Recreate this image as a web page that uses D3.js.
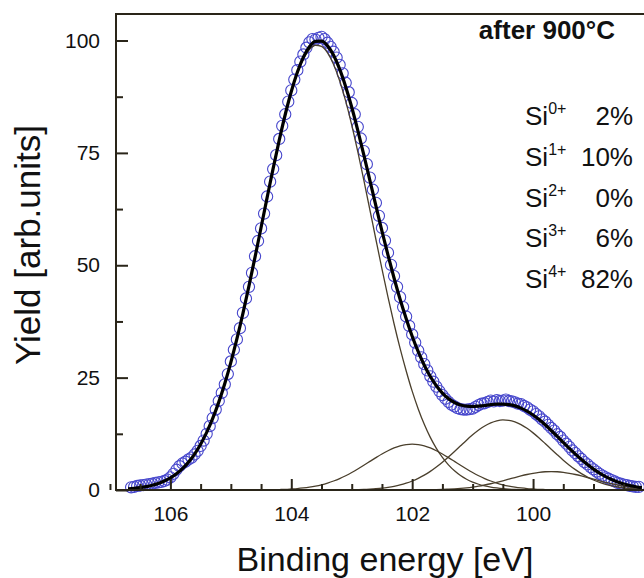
<!DOCTYPE html>
<html>
<head>
<meta charset="utf-8">
<script src="https://cdn.jsdelivr.net/npm/d3@7"></script>
<style>
  body { margin: 0; background: #ffffff; }
  text { font-family: "Liberation Sans", Arial, Helvetica, sans-serif; fill: #111; }
</style>
</head>
<body>
<svg id="chart" width="644" height="578"></svg>
<script>
// ---------------- DATA ----------------
// Measured XPS Si 2p yield (open circles), binding energy in eV
const energyMeasured = [
  106.65,106.60,106.55,106.50,106.45,106.40,106.35,106.30,106.25,106.20,
  106.15,106.10,106.05,106.00,105.95,105.90,105.85,105.80,105.75,105.70,
  105.65,105.60,105.55,105.50,105.45,105.40,105.35,105.30,105.25,105.20,
  105.15,105.10,105.05,105.00,104.95,104.90,104.85,104.80,104.75,104.70,
  104.65,104.60,104.55,104.50,104.45,104.40,104.35,104.30,104.25,104.20,
  104.15,104.10,104.05,104.00,103.95,103.90,103.85,103.80,103.75,103.70,
  103.65,103.60,103.55,103.50,103.45,103.40,103.35,103.30,103.25,103.20,
  103.15,103.10,103.05,103.00,102.95,102.90,102.85,102.80,102.75,102.70,
  102.65,102.60,102.55,102.50,102.45,102.40,102.35,102.30,102.25,102.20,
  102.15,102.10,102.05,102.00,101.95,101.90,101.85,101.80,101.75,101.70,
  101.65,101.60,101.55,101.50,101.45,101.40,101.35,101.30,101.25,101.20,
  101.15,101.10,101.05,101.00,100.95,100.90,100.85,100.80,100.75,100.70,
  100.65,100.60,100.55,100.50,100.45,100.40,100.35,100.30,100.25,100.20,
  100.15,100.10,100.05,100.00,99.95,99.90,99.85,99.80,99.75,99.70,
  99.65,99.60,99.55,99.50,99.45,99.40,99.35,99.30,99.25,99.20,
  99.15,99.10,99.05,99.00,98.95,98.90,98.85,98.80,98.75,98.70,
  98.65,98.60,98.55,98.50,98.45,98.40,98.35,98.30,98.25
];
const yieldMeasured = [
  0.6,0.7,0.9,1.0,1.1,1.2,1.3,1.4,1.6,1.7,
  1.8,2.0,2.3,2.8,3.6,4.5,5.3,5.9,6.3,6.8,
  7.2,7.9,8.7,9.8,11.0,12.5,14.2,16.0,17.9,19.8,
  21.6,23.5,25.8,28.6,31.2,33.5,36.0,39.4,42.6,45.2,
  48.3,52.0,55.4,58.2,61.5,65.3,68.6,71.4,74.5,78.1,
  81.0,83.6,86.4,88.9,91.3,93.4,95.3,96.9,98.4,99.6,
  100.3,100.2,100.6,100.8,100.3,99.5,98.6,97.5,96.2,94.6,
  92.7,90.6,88.5,86.1,83.6,80.8,78.2,75.4,72.5,69.5,
  66.8,63.9,61.0,58.3,55.5,52.8,50.1,47.6,45.2,42.9,
  40.7,38.6,36.5,34.6,32.8,31.0,29.5,28.0,26.6,25.3,
  24.1,23.0,22.0,21.1,20.3,19.6,19.0,18.6,18.2,18.0,
  17.9,17.9,18.0,18.1,18.5,18.9,19.2,19.3,19.6,19.9,
  19.7,20.0,19.8,19.9,20.1,19.8,19.7,19.5,19.2,19.1,
  18.7,18.4,17.9,17.5,16.9,16.4,15.7,15.2,14.5,13.8,
  13.2,12.4,11.8,11.0,10.3,9.6,8.8,8.2,7.5,6.9,
  6.2,5.7,5.1,4.6,4.1,3.6,3.2,2.8,2.5,2.2,
  1.9,1.6,1.4,1.2,1.1,0.9,0.8,0.7,0.7
];

// Fitted component curves (thin lines), sampled on a 0.1 eV grid
const energyFit = [
  106.7,106.6,106.5,106.4,106.3,106.2,106.1,106.0,105.9,105.8,
  105.7,105.6,105.5,105.4,105.3,105.2,105.1,105.0,104.9,104.8,
  104.7,104.6,104.5,104.4,104.3,104.2,104.1,104.0,103.9,103.8,
  103.7,103.6,103.5,103.4,103.3,103.2,103.1,103.0,102.9,102.8,
  102.7,102.6,102.5,102.4,102.3,102.2,102.1,102.0,101.9,101.8,
  101.7,101.6,101.5,101.4,101.3,101.2,101.1,101.0,100.9,100.8,
  100.7,100.6,100.5,100.4,100.3,100.2,100.1,100.0,99.9,99.8,
  99.7,99.6,99.5,99.4,99.3,99.2,99.1,99.0,98.9,98.8,
  98.7,98.6,98.5,98.4,98.3,98.2
];
const fitSi4 = [
  0.25,0.36,0.52,0.75,1.05,1.45,1.99,2.69,3.60,4.75,
  6.20,8.00,10.19,12.81,15.93,19.55,23.71,28.41,33.62,39.31,
  45.40,51.80,58.39,65.01,71.51,77.70,83.40,88.43,92.63,95.85,
  97.98,98.95,98.70,97.27,94.69,91.06,86.50,81.21,75.27,68.92,
  62.35,55.73,49.19,42.91,36.99,31.51,26.54,21.99,18.04,14.62,
  11.70,9.26,7.24,5.59,4.26,3.21,2.39,1.76,1.28,0.91,
  0.65,0.46,0.31,0.21,0.14,0.09,0.06,0.04,0.02,0.01,
  0,0,0,0,0,0,0,0,0,0,
  0,0,0,0,0,0
];
const fitSi3 = [
  0,0,0,0,0,0,0,0,0,0,
  0,0,0,0,0,0,0,0,0,0,
  0,0,0.02,0.04,0.06,0.10,0.14,0.22,0.31,0.45,
  0.63,0.86,1.16,1.54,2.00,2.54,3.18,3.89,4.67,5.50,
  6.36,7.21,8.02,8.74,9.35,9.81,10.10,10.20,10.10,9.81,
  9.35,8.74,8.02,7.21,6.36,5.50,4.67,3.89,3.18,2.54,
  2.00,1.54,1.16,0.86,0.63,0.45,0.31,0.22,0.14,0.10,
  0.06,0.04,0.02,0,0,0,0,0,0,0,
  0,0,0,0,0,0
];
const fitSi1 = [
  0,0,0,0,0,0,0,0,0,0,
  0,0,0,0,0,0,0,0,0,0,
  0,0,0,0,0,0,0,0,0,0,
  0,0,0,0,0.01,0.02,0.04,0.06,0.09,0.13,
  0.20,0.29,0.41,0.59,0.82,1.12,1.51,2.00,2.60,3.31,
  4.15,5.12,6.19,7.35,8.58,9.84,11.09,12.27,13.34,14.24,
  14.94,15.40,15.60,15.51,15.16,14.55,13.72,12.71,11.57,10.34,
  9.08,7.84,6.64,5.53,4.53,3.64,2.87,2.23,1.70,1.27,
  0.93,0.67,0.48,0.33,0.23,0.15
];
const fitSi0 = [
  0,0,0,0,0,0,0,0,0,0,
  0,0,0,0,0,0,0,0,0,0,
  0,0,0,0,0,0,0,0,0,0,
  0,0,0,0,0,0,0,0,0,0,
  0,0,0,0,0,0,0,0.01,0.02,0.03,
  0.05,0.08,0.12,0.18,0.26,0.36,0.49,0.66,0.86,1.11,
  1.39,1.71,2.05,2.41,2.78,3.13,3.45,3.72,3.93,4.06,
  4.10,4.06,3.93,3.72,3.45,3.13,2.78,2.41,2.05,1.71,
  1.39,1.11,0.86,0.66,0.49,0.36
];

const xTickLabels = [106, 104, 102, 100];
const yTickLabels = [0, 25, 50, 75, 100];
const xAxisTitle = "Binding energy [eV]";
const yAxisTitle = "Yield [arb.units]";
const annotationTitle = "after 900°C";
const speciesBase = "Si";
const speciesCharge = ["0+", "1+", "2+", "3+", "4+"];
const speciesPercent = ["2%", "10%", "0%", "6%", "82%"];

// ---------------- DRAWING ----------------
const svg = d3.select("#chart");
const plotLeft = 116, plotRight = 660, plotTop = 14, plotBottom = 490;

const x = d3.scaleLinear().domain([106.9, 97.9]).range([plotLeft, plotRight]);
const y = d3.scaleLinear().domain([0, 105.9]).range([plotBottom, plotTop]);

const axisColor = "#2a2519";

const nFit = Math.min(energyFit.length, fitSi4.length, fitSi3.length, fitSi1.length, fitSi0.length);
const comps = [fitSi4, fitSi3, fitSi1, fitSi0];
const lineGen = d3.line().x(d => x(d[0])).y(d => y(d[1])).curve(d3.curveMonotoneX);

// measured data circles
const nMeas = Math.min(energyMeasured.length, yieldMeasured.length);
svg.append("g").selectAll("circle")
  .data(d3.range(nMeas))
  .join("circle")
  .attr("cx", i => x(energyMeasured[i]))
  .attr("cy", i => y(yieldMeasured[i]))
  .attr("r", 5.6)
  .attr("fill", "none")
  .attr("stroke", "#4646cc")
  .attr("stroke-width", 1.1);

// thin component curves
comps.forEach(arr => {
  const pts = d3.range(nFit).map(i => [energyFit[i], arr[i]]);
  svg.append("path")
    .attr("d", lineGen(pts))
    .attr("fill", "none")
    .attr("stroke", "#4a3f2c")
    .attr("stroke-width", 1.3);
});

// total fit (sum of components)
const totalPts = d3.range(nFit).map(i => [energyFit[i], fitSi4[i] + fitSi3[i] + fitSi1[i] + fitSi0[i]]);
svg.append("path")
  .attr("d", lineGen(totalPts))
  .attr("fill", "none")
  .attr("stroke", "#000")
  .attr("stroke-width", 3.2)
  .attr("stroke-linejoin", "round");

// frame
svg.append("rect")
  .attr("x", plotLeft).attr("y", plotTop)
  .attr("width", plotRight - plotLeft).attr("height", plotBottom - plotTop)
  .attr("fill", "none").attr("stroke", axisColor).attr("stroke-width", 2);

// x axis
const xAxisMajor = d3.axisBottom(x).tickValues(xTickLabels).tickSize(-11).tickSizeOuter(0).tickPadding(16).tickFormat(d3.format("d"));
const gx = svg.append("g").attr("transform", `translate(0,${plotBottom})`).call(xAxisMajor);
const xMinorTicks = d3.range(98, 107.01, 0.5).filter(v => !xTickLabels.includes(v));
const xAxisMinor = d3.axisBottom(x).tickValues(xMinorTicks).tickSize(-6).tickSizeOuter(0).tickFormat("");
const gx2 = svg.append("g").attr("transform", `translate(0,${plotBottom})`).call(xAxisMinor);

// y axis
const yAxisMajor = d3.axisLeft(y).tickValues(yTickLabels).tickSize(-12).tickSizeOuter(0).tickPadding(16).tickFormat(d3.format("d"));
const gy = svg.append("g").attr("transform", `translate(${plotLeft},0)`).call(yAxisMajor);
const yAxisMinor = d3.axisLeft(y).tickValues([12.5, 37.5, 62.5, 87.5]).tickSize(-7).tickSizeOuter(0).tickFormat("");
const gy2 = svg.append("g").attr("transform", `translate(${plotLeft},0)`).call(yAxisMinor);

[gx, gx2, gy, gy2].forEach(g => {
  g.select(".domain").remove();
  g.selectAll("line").attr("stroke", axisColor).attr("stroke-width", 2);
  g.selectAll("text").attr("font-size", 21).attr("fill", "#111")
    .style("font-family", '"Liberation Sans", Arial, sans-serif');
});

// axis titles
svg.append("text")
  .attr("x", 385).attr("y", 571)
  .attr("text-anchor", "middle")
  .attr("font-size", 34)
  .text(xAxisTitle);

svg.append("text")
  .attr("transform", "translate(40,245) rotate(-90)")
  .attr("text-anchor", "middle")
  .attr("font-size", 35)
  .text(yAxisTitle);

// annotation
svg.append("text")
  .attr("x", 615).attr("y", 39)
  .attr("text-anchor", "end")
  .attr("font-size", 26)
  .attr("font-weight", "bold")
  .text(annotationTitle);

speciesCharge.forEach((c, i) => {
  const yy = 125 + i * 40.8;
  const t = svg.append("text").attr("x", 525).attr("y", yy).attr("font-size", 26);
  t.append("tspan").text(speciesBase);
  t.append("tspan").attr("dy", -11).attr("font-size", 16).text(c);
  svg.append("text")
    .attr("x", 633).attr("y", yy)
    .attr("text-anchor", "end")
    .attr("font-size", 26)
    .text(speciesPercent[i]);
});
</script>
</body>
</html>
